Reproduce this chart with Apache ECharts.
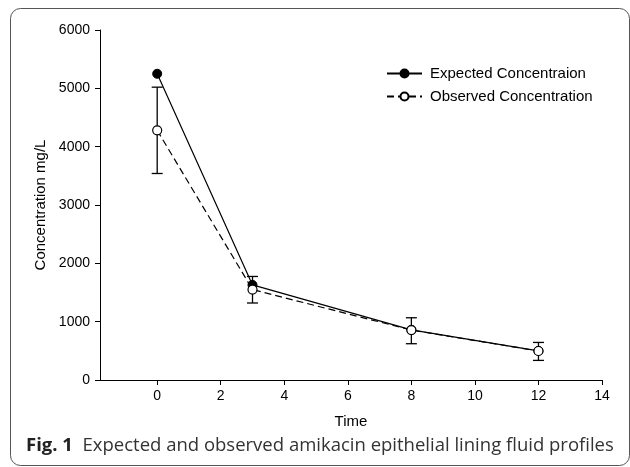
<!DOCTYPE html>
<html>
<head>
<meta charset="utf-8">
<script src="https://cdn.jsdelivr.net/npm/echarts@6/dist/echarts.min.js"></script>
<style>
html, body { margin: 0; padding: 0; background: #fff; }
#main { width: 630px; height: 467px; }
</style>
</head>
<body>
<div id="main"></div>
<script>
var times = [0, 3, 8, 12];
var expected = [5250, 1630, 860, 500];
var observed = [4280, 1550, 856, 497];
var obsLow = [3540, 1320, 622, 336];
var obsHigh = [5020, 1775, 1067, 644];
var xTicks = [0, 2, 4, 6, 8, 10, 12, 14];

var myChart = echarts.init(document.getElementById('main'));
var axisFont = 'Liberation Sans, Arial, sans-serif';

var option = {
    animation: false,
    backgroundColor: '#fff',
    grid: {
        left: 100,
        right: 28,
        top: 30,
        bottom: 87
    },
    legend: {
        orient: 'vertical',
        left: 381,
        top: 61,
        itemWidth: 35,
        itemHeight: 10,
        itemGap: 8,
        textStyle: {
            color: '#000',
            fontFamily: axisFont,
            fontSize: 15,
            padding: [0, 0, 0, 3]
        },
        data: ['Expected Concentraion', 'Observed Concentration']
    },
    xAxis: {
        type: 'value',
        min: -1.8,
        max: 14,
        name: 'Time',
        nameLocation: 'middle',
        nameGap: 34,
        nameTextStyle: {
            color: '#000',
            fontFamily: axisFont,
            fontSize: 15
        },
        axisLine: { onZero: false, lineStyle: { color: '#000', width: 1 } },
        axisTick: {
            show: true,
            length: 5,
            lineStyle: { color: '#000' },
            customValues: xTicks
        },
        axisLabel: {
            color: '#000',
            fontFamily: axisFont,
            fontSize: 14,
            margin: 9,
            customValues: xTicks
        },
        splitLine: { show: false }
    },
    yAxis: {
        type: 'value',
        min: 0,
        max: 6000,
        interval: 1000,
        name: 'Concentration mg/L',
        nameLocation: 'middle',
        nameGap: 51,
        nameTextStyle: {
            color: '#000',
            fontFamily: axisFont,
            fontSize: 15
        },
        axisLine: { show: true, onZero: false, lineStyle: { color: '#000', width: 1 } },
        axisTick: { show: true, length: 5, lineStyle: { color: '#000' } },
        axisLabel: {
            color: '#000',
            fontFamily: axisFont,
            fontSize: 14,
            margin: 10,
            formatter: function (v) { return String(v); }
        },
        splitLine: { show: false }
    },
    graphic: [{
        type: 'rect',
        shape: { x: 10.5, y: 8.5, width: 619, height: 457, r: 10 },
        style: { fill: 'none', stroke: '#555', lineWidth: 1 },
        silent: true
    }, {
        type: 'text',
        left: 26,
        top: 436,
        style: {
            text: '{b|Fig. 1}  Expected and observed amikacin epithelial lining fluid profiles',
            fontFamily: 'Open Sans, sans-serif',
            fontSize: 18.5,
            fill: '#333',
            rich: {
                b: {
                    fontFamily: 'Open Sans, sans-serif',
                    fontSize: 18.5,
                    fontWeight: 'bold',
                    fill: '#222'
                }
            }
        }
    }],
    series: [{
        name: 'Observed error',
        type: 'custom',
        z: 1,
        data: times.map(function (t, i) { return [t, obsLow[i], obsHigh[i]]; }),
        renderItem: function (params, api) {
            var lo = api.coord([api.value(0), api.value(1)]);
            var hi = api.coord([api.value(0), api.value(2)]);
            var w = 5.5;
            var st = { stroke: '#000', lineWidth: 1.3 };
            return {
                type: 'group',
                children: [
                    { type: 'line', shape: { x1: lo[0], y1: lo[1], x2: hi[0], y2: hi[1] }, style: st },
                    { type: 'line', shape: { x1: lo[0] - w, y1: lo[1], x2: lo[0] + w, y2: lo[1] }, style: st },
                    { type: 'line', shape: { x1: hi[0] - w, y1: hi[1], x2: hi[0] + w, y2: hi[1] }, style: st }
                ]
            };
        }
    }, {
        name: 'Expected Concentraion',
        type: 'line',
        z: 3,
        symbol: 'circle',
        symbolSize: 9,
        showAllSymbol: true,
        lineStyle: { color: '#000', width: 1.2 },
        itemStyle: { color: '#000', borderColor: '#000', borderWidth: 1 },
        data: times.map(function (t, i) { return [t, expected[i]]; })
    }, {
        name: 'Observed Concentration',
        type: 'line',
        z: 4,
        symbol: 'circle',
        symbolSize: 9,
        showAllSymbol: true,
        lineStyle: { color: '#000', width: 1.2, type: [7, 4] },
        itemStyle: { color: '#fff', borderColor: '#000', borderWidth: 1.2 },
        data: times.map(function (t, i) { return [t, observed[i]]; })
    }]
};
myChart.setOption(option);
window.addEventListener('resize', function () {
    myChart.resize();
});
</script>
</body>
</html>
